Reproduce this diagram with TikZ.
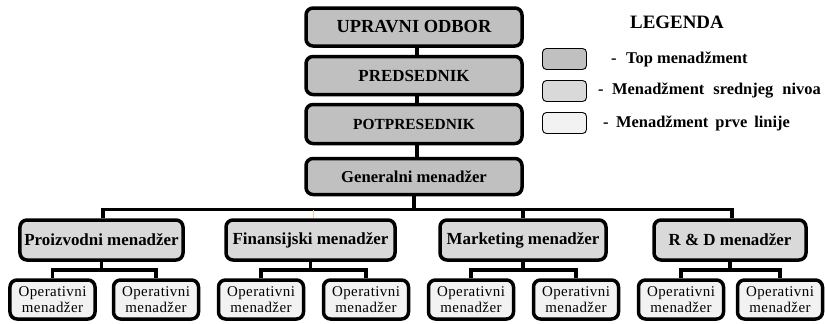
\documentclass[tikz,border=0pt]{standalone}
\usepackage{fontspec}
\setmainfont{Liberation Serif}
\newfontfamily\opfont[LetterSpace=3]{Liberation Serif}
\begin{document}
\begin{tikzpicture}[x=1bp,y=-1bp,
  topbox/.style={draw, line width=3.5bp, rounded corners=7bp, fill={rgb,255:red,192;green,192;blue,192},
    minimum width=216bp, inner sep=0pt, font=\bfseries},
  midbox/.style={draw, line width=3.5bp, rounded corners=7bp, fill={rgb,255:red,217;green,217;blue,217},
    minimum height=40bp, inner sep=0pt, font=\bfseries\fontsize{17}{19}\selectfont},
  opbox/.style={draw, line width=3.5bp, rounded corners=7bp, fill={rgb,255:red,242;green,242;blue,242},
    minimum width=85bp, minimum height=39bp, inner sep=0pt, align=center,
    font=\opfont\fontsize{15}{16}\selectfont},
  legbox/.style={draw, line width=0.9bp, rounded corners=4bp, minimum width=44bp, minimum height=21bp, inner sep=0pt},
  legtext/.style={anchor=west, inner sep=0pt, font=\bfseries\fontsize{16.5}{18}\selectfont},
  conn/.style={line width=3.5bp}
]
\useasboundingbox (0,0) rectangle (825,323);

% top management chain
\node[topbox, minimum height=38bp, font=\bfseries\fontsize{18.5}{20}\selectfont] (uo) at (414,27) {UPRAVNI ODBOR};
\node[topbox, minimum height=38bp, font=\bfseries\fontsize{17}{19}\selectfont] (pred) at (414,75.5) {PREDSEDNIK};
\node[topbox, minimum height=39bp, font=\bfseries\fontsize{15.5}{18}\selectfont] (pot) at (414,124) {POTPRESEDNIK};
\node[topbox, minimum height=36bp, font=\bfseries\fontsize{16.7}{18}\selectfont] (gm) at (414,176.5) {Generalni menadžer};

\draw[conn] ([xshift=3bp]uo.south) -- ([xshift=3bp]pred.north);
\draw[conn] ([xshift=3bp]pred.south) -- ([xshift=3bp]pot.north);
\draw[conn] ([xshift=3bp]pot.south) -- ([xshift=3bp]gm.north);

% middle management
\node[midbox, minimum width=163bp] (pm) at (101.5,240) {Proizvodni menadžer};
\node[midbox, minimum width=169bp] (fm) at (310.5,240) {Finansijski menadžer};
\node[midbox, minimum width=166bp] (mm) at (523,240) {Marketing menadžer};
\node[midbox, minimum width=152bp] (rd) at (730,240) {R \& D menadžer};

% bus from the general manager
\coordinate (bus) at (0,209.5);
\draw[conn] (gm.south) -- (gm.south |- bus);
\draw[conn] ([xshift=1.5bp]pm.north) |- ([xshift=2bp]rd.north |- bus) -- ([xshift=2bp]rd.north);
\draw[conn] (mm.north) -- (mm.north |- bus);
\draw[line width=1.5bp, orange!45] ([xshift=3bp]fm.north) -- ([xshift=3bp]fm.north |- bus);

% first-line management
\foreach \n/\x in {o1/52.5, o2/156, o3/261, o4/366, o5/471, o6/576, o7/681, o8/780}
  \node[opbox] (\n) at (\x,299.5) {Operativni\\menadžer};

\coordinate (sub) at (0,270);
\foreach \p/\a/\b in {pm/o1/o2, fm/o3/o4, mm/o5/o6, rd/o7/o8} {
  \draw[conn] (\p.south) -- (\p.south |- sub);
  \draw[conn] (\a.north) |- (\b.north |- sub) -- (\b.north);
}

% legend
\node[font=\bfseries\fontsize{19}{21}\selectfont, inner sep=0pt] (leg) at (677,22) {LEGENDA};
\node[legbox, fill={rgb,255:red,192;green,192;blue,192}] (l1) at (564.5,59) {};
\node[legbox, fill={rgb,255:red,217;green,217;blue,217}] (l2) at (564.5,91) {};
\node[legbox, fill={rgb,255:red,242;green,242;blue,242}] (l3) at (564.5,123) {};
\node[legtext] (t1) at (611,59) {-\hspace{9.5bp}Top menadžment};
\node[legtext] (t2) at (598,91) {-\hspace{8.5bp}Menadžment\hspace{9bp}srednjeg\hspace{9bp}nivoa};
\node[legtext] (t3) at (603,123) {-\hspace{7.5bp}Menadžment\hspace{7bp}prve\hspace{7bp}linije};
\end{tikzpicture}
\end{document}
